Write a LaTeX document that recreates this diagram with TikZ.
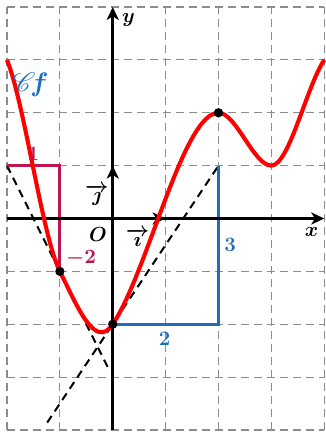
\documentclass[tikz,border=0pt]{standalone}
\usepackage{amsmath}
\usepackage{mathrsfs}
\usetikzlibrary{arrows.meta}
\definecolor{pinkc}{RGB}{190,20,80}
\definecolor{bluec}{RGB}{30,110,190}
\tikzset{
  gridline/.style={draw=black!45, line width=0.6pt, dash pattern=on 4.3pt off 2.7pt},
  tangent/.style={draw=black, line width=1.1pt, dash pattern=on 4.3pt off 3pt},
  axis/.style={draw=black, line width=1.8pt, -{Stealth[length=7pt,width=6.5pt,inset=2pt]}},
  unitvec/.style={draw=black, line width=1.8pt, -{Stealth[length=7pt,width=6.5pt,inset=2pt]}},
  curve/.style={draw=red, line width=2.2pt},
  pinkline/.style={draw=pinkc, line width=1.7pt},
  blueline/.style={draw=bluec, line width=1.7pt},
  dot/.style={circle, fill=black, inner sep=0pt, minimum size=5pt},
  lbl/.style={font=\fontsize{11}{13}\selectfont\bfseries\boldmath, inner sep=1pt},
}
\begin{document}
\begin{tikzpicture}[x=1cm,y=1cm]
\useasboundingbox (-2.132,-4.17) rectangle (4.02,4.132);
% grid
\draw[gridline] (-2,-4) grid (4,4);
% coordinates
\coordinate (A) at (-2,3);
\coordinate (B) at (-1,-1);
\coordinate (C) at (0,-2);
\coordinate (D) at (2,2);
\coordinate (E) at (3,1);
\coordinate (F) at (4,3);
\coordinate (T1s) at (-2,1);
\coordinate (T1e) at (-0.05,-2.9);
\coordinate (T2s) at (-1.24,-3.86);
\coordinate (T2e) at (2,1);
\coordinate (P1) at (-1,1);
\coordinate (Q1) at (2,-2);
% tangents
\draw[tangent] (T1s) -- (T1e);
\draw[tangent] (T2s) -- (T2e);
% slope triangles
\draw[pinkline] (T1s) -- (P1) -- (B);
\draw[blueline] (C) -- (Q1) -- (T2e);
% axes
\coordinate (xl) at (-2,0);
\coordinate (xr) at (4,0);
\coordinate (yb) at (0,-4);
\coordinate (yt) at (0,4);
\coordinate (O) at (0,0);
\coordinate (I) at (1,0);
\coordinate (J) at (0,1);
\draw[axis] (xl) -- (xr);
\draw[axis] (yb) -- (yt);
\draw[unitvec] (O) -- (I);
\draw[unitvec] (O) -- (J);
% curve
\draw[curve] (A) .. controls (-1.6667,2.1667) and (-1.3333,-0.3333) .. (B)
  .. controls (-0.6667,-1.6667) and (-0.3333,-2.5) .. (C)
  .. controls (0.6667,-1) and (1.3333,2) .. (D)
  .. controls (2.3333,2) and (2.6667,1) .. (E)
  .. controls (3.3333,1) and (3.6667,2.5) .. (F);
% dots
\node[dot] (dB) at (B) {};
\node[dot] (dC) at (C) {};
\node[dot] (dD) at (D) {};
% labels
\node[lbl] (ly) at (0.3,3.76) {$\boldsymbol{y}$};
\node[lbl] (lx) at (3.76,-0.25) {$\boldsymbol{x}$};
\node[lbl] (lO) at (-0.28,-0.3) {$\boldsymbol{O}$};
\node[lbl] (lj) at (-0.3,0.45) {$\overrightarrow{\boldsymbol{\jmath}}$};
\node[lbl] (li) at (0.47,-0.36) {$\overrightarrow{\boldsymbol{\imath}}$};
\node[lbl, text=pinkc] (l1) at (-1.5,1.22) {1};
\node[lbl, text=pinkc] (lm2) at (-0.6,-0.75) {$-2$};
\node[lbl, text=bluec] (l2) at (0.98,-2.27) {2};
\node[lbl, text=bluec] (l3) at (2.22,-0.5) {3};
\node[text=bluec, font=\Large\boldmath, inner sep=0pt] (lC) at (-1.55,2.53) {$\mathscr{C}\!\boldsymbol{f}$};
\end{tikzpicture}
\end{document}
